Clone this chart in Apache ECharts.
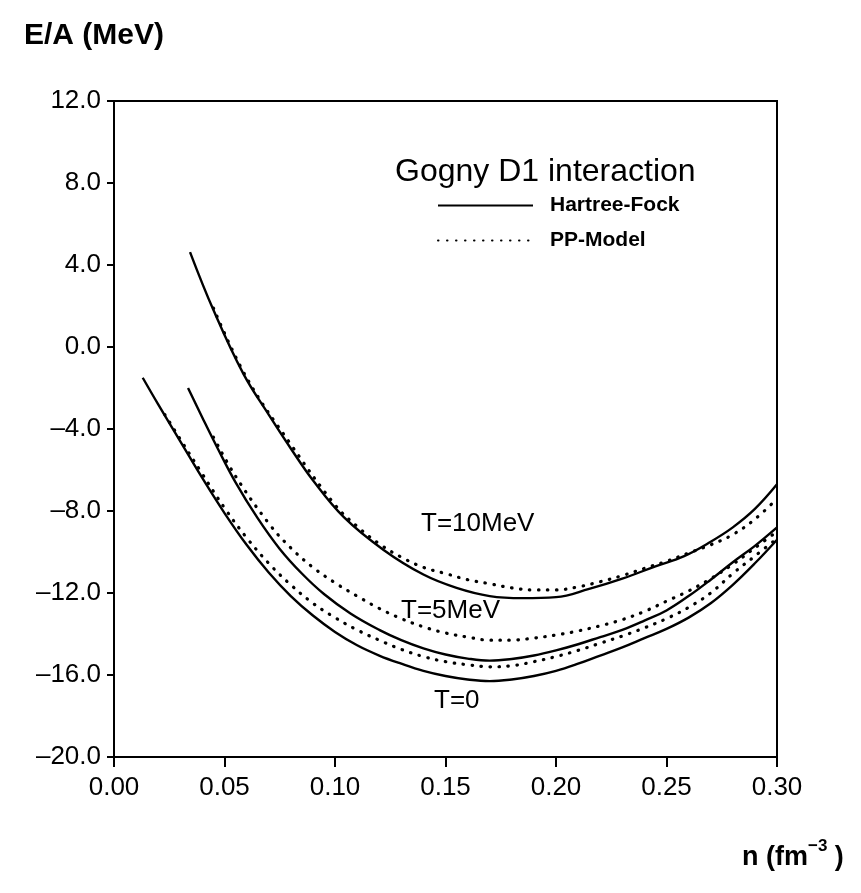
<!DOCTYPE html>
<html>
<head>
<meta charset="utf-8">
<script src="https://cdn.jsdelivr.net/npm/echarts@6/dist/echarts.min.js"></script>
<style>
  html, body { margin: 0; padding: 0; background: #fff; }
  #chart { width: 861px; height: 893px; }
</style>
</head>
<body>
<div id="chart"></div>
<script>
// Energy per nucleon E/A (MeV) versus density n (fm^-3), Gogny D1 interaction
const xTicks = [0.00, 0.05, 0.10, 0.15, 0.20, 0.25, 0.30];
const yTicks = [-20, -16, -12, -8, -4, 0, 4, 8, 12];

// Hartree-Fock, T = 0
const hfT0 = [
  [0.013, -1.5], [0.02, -2.8], [0.03, -4.6], [0.04, -6.4], [0.05, -8.1],
  [0.06, -9.65], [0.07, -11.0], [0.08, -12.15], [0.09, -13.1], [0.10, -13.9],
  [0.11, -14.55], [0.12, -15.05], [0.13, -15.45], [0.14, -15.8], [0.15, -16.05],
  [0.16, -16.22], [0.17, -16.3], [0.18, -16.22], [0.19, -16.05], [0.20, -15.8],
  [0.21, -15.45], [0.22, -15.05], [0.23, -14.65], [0.24, -14.2], [0.25, -13.75],
  [0.26, -13.2], [0.27, -12.5], [0.28, -11.6], [0.29, -10.55], [0.30, -9.4]
];
// PP-Model, T = 0
const ppT0 = [
  [0.023, -3.3], [0.03, -4.5], [0.04, -6.2], [0.05, -7.85], [0.06, -9.3],
  [0.07, -10.55], [0.08, -11.6], [0.09, -12.5], [0.10, -13.2], [0.11, -13.8],
  [0.12, -14.3], [0.13, -14.75], [0.14, -15.1], [0.15, -15.35], [0.16, -15.5],
  [0.17, -15.6], [0.18, -15.55], [0.19, -15.35], [0.20, -15.1], [0.21, -14.8],
  [0.22, -14.45], [0.23, -14.1], [0.24, -13.7], [0.25, -13.25], [0.26, -12.7],
  [0.27, -12.0], [0.28, -11.05], [0.29, -10.2], [0.30, -9.35]
];
// Hartree-Fock, T = 5 MeV
const hfT5 = [
  [0.0335, -2.0], [0.04, -3.45], [0.0467, -4.9], [0.055, -6.6], [0.065, -8.35],
  [0.075, -9.85], [0.085, -11.05], [0.095, -12.05], [0.107, -13.0], [0.12, -13.8],
  [0.13, -14.3], [0.14, -14.7], [0.15, -15.0], [0.16, -15.2], [0.17, -15.3],
  [0.18, -15.22], [0.19, -15.05], [0.20, -14.8], [0.21, -14.5], [0.22, -14.15],
  [0.23, -13.8], [0.24, -13.35], [0.25, -12.85], [0.26, -12.15], [0.27, -11.35],
  [0.28, -10.5], [0.29, -9.7], [0.30, -8.8]
];
// PP-Model, T = 5 MeV
const ppT5 = [
  [0.045, -4.4], [0.055, -6.3], [0.07, -8.6], [0.08, -9.8], [0.09, -10.75],
  [0.10, -11.5], [0.11, -12.15], [0.12, -12.75], [0.13, -13.25], [0.14, -13.65],
  [0.15, -13.95], [0.16, -14.15], [0.17, -14.3], [0.18, -14.3], [0.19, -14.2],
  [0.20, -14.05], [0.21, -13.85], [0.22, -13.6], [0.23, -13.3], [0.24, -12.9],
  [0.25, -12.4], [0.26, -11.9], [0.27, -11.3], [0.28, -10.6], [0.29, -9.8],
  [0.30, -9.0]
];
// Hartree-Fock, T = 10 MeV
const hfT10 = [
  [0.0344, 4.63], [0.045, 1.8], [0.0585, -1.3], [0.07, -3.3], [0.08, -4.95],
  [0.09, -6.5], [0.104, -8.3], [0.122, -9.9], [0.14, -11.1], [0.155, -11.75],
  [0.17, -12.15], [0.185, -12.25], [0.20, -12.2], [0.215, -11.8], [0.23, -11.3],
  [0.245, -10.7], [0.258, -10.2], [0.27, -9.5], [0.28, -8.8], [0.29, -7.9],
  [0.30, -6.7]
];
// PP-Model, T = 10 MeV
const ppT10 = [
  [0.045, 1.9], [0.06, -1.5], [0.08, -4.75], [0.10, -7.7], [0.11, -8.75],
  [0.12, -9.6], [0.13, -10.25], [0.14, -10.75], [0.15, -11.05], [0.16, -11.35],
  [0.17, -11.55], [0.18, -11.75], [0.19, -11.85], [0.20, -11.85], [0.21, -11.7],
  [0.22, -11.45], [0.23, -11.15], [0.24, -10.8], [0.25, -10.45], [0.26, -10.05],
  [0.27, -9.65], [0.28, -9.15], [0.29, -8.4], [0.30, -7.4]
];

const FONT = '"Liberation Sans", Arial, Helvetica, sans-serif';

function hfSeries(data) {
  return {
    name: 'Hartree-Fock', type: 'line', data: data, smooth: 0.4,
    symbol: 'none', showSymbol: false, clip: true, color: '#000',
    lineStyle: { color: '#000', width: 2.4 }
  };
}
function ppSeries(data) {
  return {
    name: 'PP-Model', type: 'line', data: data, smooth: 0.4,
    symbol: 'none', showSymbol: false, clip: true, color: '#000',
    lineStyle: { color: '#000', width: 3.2, type: [0.5, 8.5], cap: 'round' }
  };
}

const chart = echarts.init(document.getElementById('chart'), null, { renderer: 'canvas' });

chart.setOption({
  backgroundColor: '#fff',
  animation: false,
  color: ['#000'],
  grid: {
    left: 114, right: 84, top: 101, bottom: 136,
    show: true, borderColor: '#000', borderWidth: 2, backgroundColor: 'transparent'
  },
  legend: {
    data: ['Hartree-Fock', 'PP-Model'],
    orient: 'vertical',
    left: 432, top: 190,
    itemWidth: 95, itemHeight: 14, itemGap: 14,
    selectedMode: false,
    itemStyle: { opacity: 0 },
    textStyle: {
      fontFamily: FONT, fontSize: 21, fontWeight: 'bold', color: '#000',
      lineHeight: 21, padding: [0, 0, 0, 12]
    }
  },
  xAxis: {
    type: 'value', min: 0, max: 0.30, interval: 0.05,
    axisLine: { show: true, onZero: false, lineStyle: { color: '#000', width: 2 } },
    axisTick: { show: true, inside: false, length: 10, lineStyle: { color: '#000', width: 2 } },
    splitLine: { show: false },
    axisLabel: {
      margin: 18, color: '#000', fontFamily: FONT, fontSize: 26,
      formatter: v => v.toFixed(2)
    }
  },
  yAxis: {
    type: 'value', min: -20, max: 12, interval: 4,
    axisLine: { show: true, onZero: false, lineStyle: { color: '#000', width: 2 } },
    axisTick: { show: true, inside: false, length: 7, lineStyle: { color: '#000', width: 2 } },
    splitLine: { show: false },
    axisLabel: {
      margin: 13, color: '#000', fontFamily: FONT, fontSize: 26,
      formatter: v => (v < 0 ? '\u2013' + Math.abs(v).toFixed(1) : v.toFixed(1))
    }
  },
  series: [
    hfSeries(hfT0), ppSeries(ppT0),
    hfSeries(hfT5), ppSeries(ppT5),
    hfSeries(hfT10), ppSeries(ppT10)
  ],
  graphic: [
    { type: 'text', left: 24, top: 21,
      style: { text: 'E/A (MeV)', font: 'bold 30px ' + FONT, fill: '#000' } },
    { type: 'text', left: 742, top: 838,
      style: {
        text: '{b|n (fm}{s|\u22123}{b| )}',
        rich: {
          b: { font: 'bold 27px ' + FONT, fill: '#000', verticalAlign: 'bottom' },
          s: { font: 'bold 17px ' + FONT, fill: '#000', verticalAlign: 'top', padding: [0, 0, 16, 0] }
        }
      } },
    { type: 'text', left: 395, top: 156,
      style: { text: 'Gogny D1 interaction', font: '32px ' + FONT, fill: '#000' } },
    { type: 'text', left: 421, top: 511,
      style: { text: 'T=10MeV', font: '26px ' + FONT, fill: '#000' } },
    { type: 'text', left: 401, top: 598,
      style: { text: 'T=5MeV', font: '26px ' + FONT, fill: '#000' } },
    { type: 'text', left: 434, top: 688,
      style: { text: 'T=0', font: '26px ' + FONT, fill: '#000' } }
  ]
});
</script>
</body>
</html>
